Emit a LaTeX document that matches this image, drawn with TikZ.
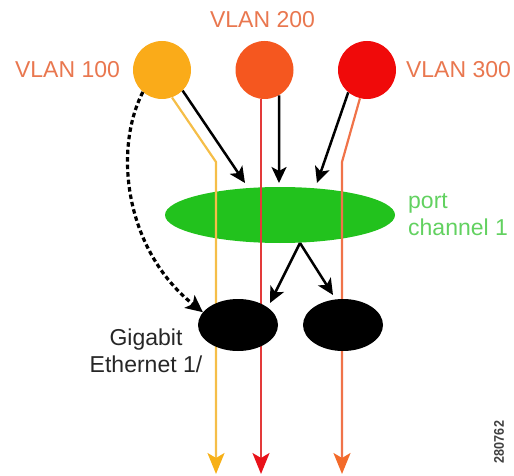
\documentclass[tikz,border=0pt]{standalone}
\usepackage{fontspec}
\setmainfont{Liberation Sans}
\usetikzlibrary{arrows.meta,shapes.geometric}
\definecolor{cOne}{HTML}{FAAB19}
\definecolor{cTwo}{HTML}{F5571F}
\definecolor{cThree}{HTML}{F00A0A}
\definecolor{vlanText}{HTML}{E9774F}
\definecolor{pcGreen}{HTML}{22C21D}
\definecolor{pcText}{HTML}{62D160}
\definecolor{yLine}{HTML}{F5BE48}
\definecolor{yHead}{HTML}{F7B016}
\definecolor{rLine}{HTML}{E33A3A}
\definecolor{rHead}{HTML}{E9121A}
\definecolor{oLine}{HTML}{F07349}
\definecolor{oHead}{HTML}{F36A2A}
\begin{document}
\begin{tikzpicture}[x=1bp,y=-1bp,
  vlan/.style={circle,minimum size=58bp,inner sep=0},
  lbl/.style={font=\fontsize{23bp}{27bp}\selectfont,inner sep=0},
  gige/.style={ellipse,fill=black,minimum width=80bp,minimum height=52bp,inner sep=0},
  flow/.style={line width=2.2bp},
  black arrow/.style={line width=2.5bp,-{Stealth[length=16bp,width=15bp,inset=4bp]}},
]
\useasboundingbox (0,0) rectangle (514,476);
% VLAN circles
\node[vlan,fill=cOne] (c1) at (162,70) {};
\node[vlan,fill=cTwo] (c2) at (264.5,70) {};
\node[vlan,fill=cThree] (c3) at (367,70) {};
\node[lbl,text=vlanText] (l100) at (67.5,70) {VLAN 100};
\node[lbl,text=vlanText] (l200) at (262.5,20) {VLAN 200};
\node[lbl,text=vlanText] (l300) at (458.5,70) {VLAN 300};
% port channel
\node[ellipse,fill=pcGreen,minimum width=230bp,minimum height=56bp,inner sep=0] (pc) at (280,215) {};
\node[lbl,text=pcText,align=left,anchor=west] (pct) at (408,215) {port\\channel 1};
% coordinates
\coordinate (yb) at (216,474);
\coordinate (rb) at (261,474);
\coordinate (ob) at (342,474);
\coordinate (ybend) at (216,162);
\coordinate (obend) at (342,162);
\coordinate (t1) at (245,183);
\coordinate (t2) at (279,183);
\coordinate (t3) at (317,183);
\coordinate (pcb) at (300,243);
\coordinate (t4) at (270,303);
\coordinate (t5) at (333,295);
% coloured flows
\draw[flow,yLine,-{Stealth[length=21bp,width=17bp,inset=5bp,color=yHead]}] (c1.-70) -- (ybend) -- (yb);
\draw[flow,rLine,-{Stealth[length=21bp,width=17bp,inset=5bp,color=rHead]}] (rb |- c2.south) -- (rb);
\draw[flow,oLine,-{Stealth[length=21bp,width=17bp,inset=5bp,color=oHead]}] (c3.-104) -- (obend) -- (ob);
% gigabit ethernet ports
\node[gige] (g1) at (238,325) {};
\node[gige] (g2) at (343,325) {};
\node[lbl,text=black!85,align=center] (gt) at (146,351) {Gigabit\\Ethernet 1/};
% black arrows
\draw[black arrow] (c1.-45) -- (t1);
\draw[black arrow] (c2.-60) -- (t2);
\draw[black arrow] (c3.230) -- (t3);
\draw[black arrow] (pcb) -- (t4);
\draw[black arrow] (pcb) -- (t5);
\draw[line width=3.2bp,dash pattern=on 4.5bp off 3bp,-{Stealth[length=17bp,width=16bp,inset=4bp]}]
  (c1.229) .. controls (113,150) and (125,250) .. (g1.160);
% figure number
\node[font=\fontsize{14bp}{14bp}\selectfont\bfseries,text=black!75,rotate=90,inner sep=0,xscale=0.9] (num) at (499,442) {280762};
\end{tikzpicture}
\end{document}
